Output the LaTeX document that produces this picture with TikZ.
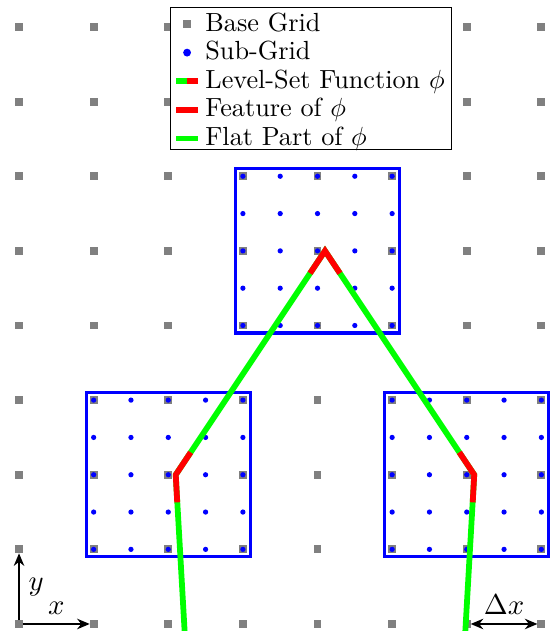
\documentclass[tikz,border=0pt]{standalone}
\usepackage{amsmath,amssymb}
\usepackage{tikz}
\usetikzlibrary{arrows.meta,positioning,fit}
\tikzset{
  basept/.style={rectangle, fill=gray, minimum size=3pt, inner sep=0pt, outer sep=0pt},
  subpt/.style={circle, fill=blue, minimum size=2pt, inner sep=0pt},
  cellbox/.style={draw=blue, line width=1.2pt, inner sep=1.35pt},
  flat/.style={green, line width=2.2pt},
  feature/.style={red, line width=2.2pt},
  legtext/.style={anchor=west, inner sep=0pt, text height=1.5ex, text depth=.25ex},
  axarrow/.style={->, >={Stealth[length=4.8pt,width=4pt]}, line width=0.7pt},
  axlbl/.style={font=\fontsize{11}{13}\selectfont},
}

\begin{document}
\begin{tikzpicture}
\useasboundingbox (-0.255,-0.094) rectangle (7.147,8.362);
\clip (-0.255,-0.094) rectangle (7.147,8.362);

\foreach \i in {0,...,7}
  \foreach \j in {0,...,8}
    \node[basept] (g-\i-\j) at (\i,\j) {};

\foreach \ci/\cj/\ei/\ej/\nm in {3/4/5/6/top,1/1/3/3/left,5/1/7/3/right} {
  \foreach \k in {0,...,4}
    \foreach \l in {0,...,4}
      \node[subpt] (s-\nm-\k-\l) at (\ci+0.5*\k,\cj+0.5*\l) {};
  \node[cellbox, fit=(g-\ci-\cj)(g-\ei-\ej)] (box-\nm) {};
}

\coordinate (bl) at (2.225,-0.2);
\coordinate (kl) at (2.1,2);
\coordinate (apex) at (4.1,5);
\coordinate (kr) at (6.1,2);
\coordinate (br) at (5.975,-0.2);
\draw[flat] (bl) -- (kl) -- (apex) -- (kr) -- (br);
\draw[feature] (2.12,1.63) -- (kl) -- (2.3,2.3);
\draw[feature] (3.9,4.7) -- (apex) -- (4.3,4.7);
\draw[feature] (5.9,2.3) -- (kr) -- (6.08,1.63);

\draw[fill=white] (2.024,6.354) rectangle (5.791,8.257);
\node[legtext] (l1) at (2.49,8.04) {Base Grid};
\node[legtext, below right=0.104cm and 0cm of l1.south west] (l2) {Sub-Grid};
\node[legtext, below right=0.104cm and 0cm of l2.south west] (l3) {Level-Set Function $\phi$};
\node[legtext, below right=0.104cm and 0cm of l3.south west] (l4) {Feature of $\phi$};
\node[legtext, below right=0.104cm and 0cm of l4.south west] (l5) {Flat Part of $\phi$};
\coordinate (legx) at (2.252,0);
\node[basept] (m1) at (l1 -| legx) {};
\node[subpt, minimum size=3pt] (m2) at (l2 -| legx) {};
\coordinate (m3) at (l3 -| legx);
\coordinate (m4) at (l4 -| legx);
\coordinate (m5) at (l5 -| legx);
\draw[flat] ([xshift=-0.147cm]m3) -- (m3);
\draw[feature] (m3) -- ([xshift=0.147cm]m3);
\draw[feature] ([xshift=-0.147cm]m4) -- ([xshift=0.147cm]m4);
\draw[flat] ([xshift=-0.147cm]m5) -- ([xshift=0.147cm]m5);

\draw[axarrow] (g-0-0) -- node[axlbl, right] (ylab) {$y$} (g-0-1);
\draw[axarrow] (g-0-0) -- node[axlbl, above] (xlab) {$x$} (g-1-0);
\draw[axarrow, <->] (g-6-0) -- node[axlbl, above] (dxlab) {$\Delta x$} (g-7-0);
\end{tikzpicture}
\end{document}
